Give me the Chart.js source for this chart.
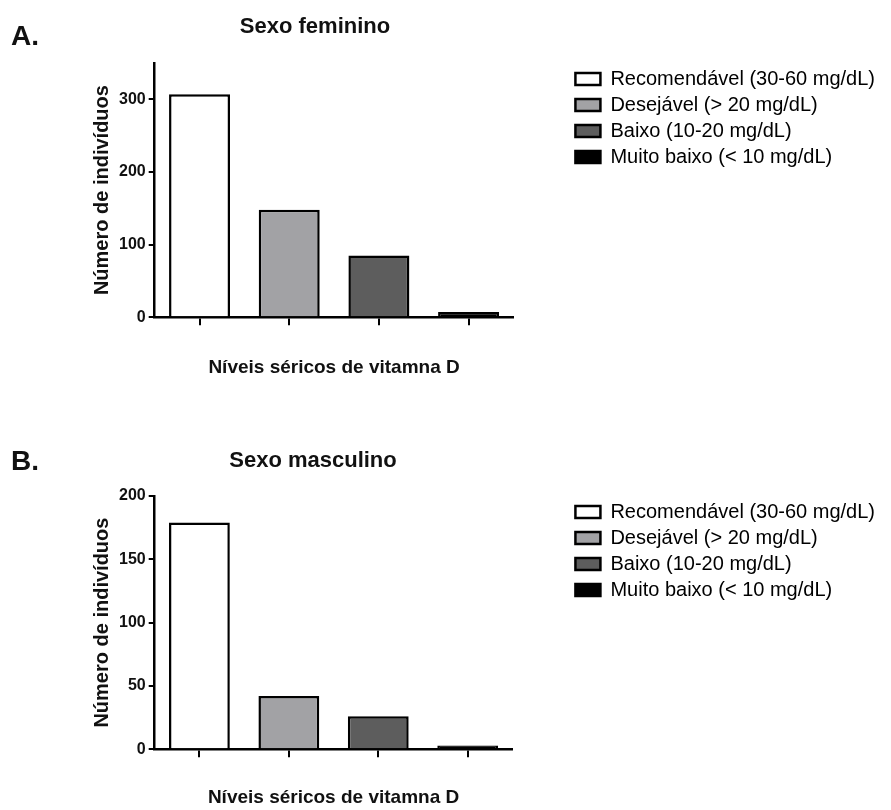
<!DOCTYPE html>
<html>
<head>
<meta charset="utf-8">
<script src="https://cdn.jsdelivr.net/npm/chart.js@4.4.1/dist/chart.umd.min.js"></script>
<style>
  body { margin: 0; background: #fff; }
  canvas { display: block; }
</style>
</head>
<body>
<canvas id="femininoChart" width="891" height="405"></canvas>
<canvas id="masculinoChart" width="891" height="405"></canvas>
<script>
const categories = ['Recomendável (30-60 mg/dL)', 'Desejável (> 20 mg/dL)', 'Baixo (10-20 mg/dL)', 'Muito baixo (< 10 mg/dL)'];
const femininoValues = [307, 148, 85, 7];
const masculinoValues = [179, 42, 26, 3];
const femininoTicks = [0, 100, 200, 300];
const masculinoTicks = [0, 50, 100, 150, 200];
const barColors = ['#ffffff', '#a2a2a5', '#5d5d5d', '#000000'];

const FONT = '"Liberation Sans", Arial, sans-serif';
const INK = '#111';

// panel letter + chart heading, drawn on top of the canvas
function panelTitles(letter, title, pos) {
    return {
        id: 'panelTitles',
        afterDraw(chart) {
            const ctx = chart.ctx;
            ctx.save();
            ctx.fillStyle = INK;
            ctx.textBaseline = 'alphabetic';
            ctx.textAlign = 'left';
            ctx.font = 'bold 28px ' + FONT;
            ctx.fillText(letter, 11, pos.letterY);
            ctx.textAlign = 'center';
            ctx.font = 'bold 22px ' + FONT;
            ctx.fillText(title, pos.titleX, pos.titleY);
            ctx.restore();
        },
    };
}

function makePanel(canvas, cfg) {
    return new Chart(canvas, {
        type: 'bar',
        data: {
            labels: categories,
            datasets: [{
                data: cfg.values,
                yAxisID: 'y',
                backgroundColor: barColors,
                borderColor: '#000',
                borderWidth: 2.5,
                borderSkipped: 'start',
                categoryPercentage: 1,
                barPercentage: 0.68,
            }],
        },
        options: {
            responsive: false,
            animation: false,
            layout: { padding: cfg.padding },
            scales: {
                x: {
                    offset: true,
                    grid: {
                        display: true,
                        drawOnChartArea: false,
                        offset: false,
                        tickLength: 8,
                        color: '#000',
                        lineWidth: 2,
                    },
                    border: { display: true, color: '#000', width: 2.5 },
                    ticks: { display: false },
                    title: {
                        display: true,
                        text: 'Níveis séricos de vitamna D',
                        color: INK,
                        font: { family: FONT, size: 19, weight: 'bold' },
                        padding: { top: cfg.xTitleTop, bottom: 0 },
                    },
                },
                y: {
                    min: 0,
                    max: cfg.max,
                    afterBuildTicks: axis => {
                        axis.ticks = cfg.ticks.map(v => ({ value: v }));
                    },
                    grid: {
                        display: true,
                        drawOnChartArea: false,
                        tickLength: 6,
                        color: '#000',
                        lineWidth: 2,
                    },
                    border: { display: true, color: '#000', width: 2.5 },
                    ticks: {
                        padding: 3,
                        color: INK,
                        font: { family: FONT, size: 16, weight: 'bold' },
                    },
                    title: {
                        display: true,
                        text: 'Número de indivíduos',
                        color: INK,
                        font: { family: FONT, size: 20, weight: 'bold' },
                        padding: { top: 6, bottom: 2 },
                    },
                },
                // empty axis that only keeps the legend away from the plot
                gap: {
                    type: 'linear',
                    position: 'right',
                    grid: { display: false },
                    ticks: { display: false },
                    border: { display: false },
                    afterFit: axis => { axis.width = cfg.gap; },
                },
            },
            plugins: {
                tooltip: { enabled: false },
                legend: {
                    position: 'right',
                    align: 'start',
                    maxWidth: 340,
                    labels: {
                        boxWidth: 25,
                        boxHeight: 12,
                        padding: 6,
                        color: INK,
                        font: { family: FONT, size: 20 },
                        generateLabels: chart => {
                            const ds = chart.data.datasets[0];
                            return chart.data.labels.map((text, i) => ({
                                text: text,
                                fillStyle: ds.backgroundColor[i],
                                strokeStyle: '#000',
                                lineWidth: 2.5,
                                hidden: false,
                                index: i,
                            }));
                        },
                    },
                },
            },
        },
        plugins: [panelTitles(cfg.letter, cfg.title, cfg.pos)],
    });
}

makePanel(document.getElementById('femininoChart'), {
    letter: 'A.',
    title: 'Sexo feminino',
    pos: { letterY: 45, titleX: 315, titleY: 33 },
    values: femininoValues,
    ticks: femininoTicks,
    max: 350,
    padding: { top: 63, left: 84, right: 6, bottom: 26 },
    xTitleTop: 31,
    gap: 56,
});

makePanel(document.getElementById('masculinoChart'), {
    letter: 'B.',
    title: 'Sexo masculino',
    pos: { letterY: 65, titleX: 313, titleY: 62 },
    values: masculinoValues,
    ticks: masculinoTicks,
    max: 200,
    padding: { top: 91, left: 84, right: 6, bottom: 1 },
    xTitleTop: 29,
    gap: 57,
});
</script>
</body>
</html>
